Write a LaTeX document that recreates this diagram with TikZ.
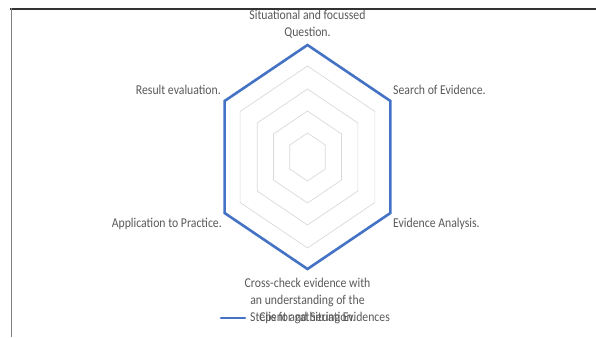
\documentclass[tikz,border=0pt]{standalone}
\usepackage{fontspec}
\setmainfont{Carlito}[FakeStretch=0.87]
\definecolor{seriesblue}{HTML}{4472C4}
\definecolor{gridgray}{HTML}{D9D9D9}
\definecolor{labelgray}{HTML}{595959}

\tikzset{
    spoke/.style={inner sep=0pt, text=labelgray},
    ring/.style={gridgray, line width=0.7pt},
    series/.style={seriesblue, line width=2.6pt, line join=miter}
}

\begin{document}
\begin{tikzpicture}[x=1pt, y=1pt, font=\fontsize{13.5}{17}\selectfont]
        \useasboundingbox (0,0) rectangle (596,337);

        % frame
        \draw[black!80, line width=1.2pt] (10,328) -- (596,328);
        \draw[black!50, line width=0.8pt] (11,328.6) -- (11,0);

        \begin{scope}[shift={(307.5,180)}, xscale=0.855]
            % grid rings
            \foreach \r in {24,46,68,91}
                \draw[ring] (90:\r) -- (30:\r) -- (-30:\r) -- (-90:\r) -- (-150:\r) -- (150:\r) -- cycle;

            % data points
            \coordinate (q) at (90:112);
            \coordinate (s) at (30:112);
            \coordinate (a) at (-30:112);
            \coordinate (c) at (-90:112);
            \coordinate (p) at (-150:112);
            \coordinate (r) at (150:112);

            % series
            \draw[series] (q) -- (s) -- (a) -- (c) -- (p) -- (r) -- cycle;
        \end{scope}

        % labels
        \node[spoke, align=center] (question) at (307.5,313) {Situational and focussed\\Question.};
        \node[spoke, anchor=west] (search) at (393,247) {Search of Evidence.};
        \node[spoke, anchor=west] (analysis) at (393,113) {Evidence Analysis.};
        \node[spoke, align=center] (crosscheck) at (307.5,37) {Cross-check evidence with\\an understanding of the\\Client and Situation.};
        \node[spoke, anchor=east] (practice) at (222,113) {Application to Practice.};
        \node[spoke, anchor=east] (result) at (221,247) {Result evaluation.};

        % legend
        \coordinate (key1) at (221,19);
        \coordinate (key2) at (245,19);
        \draw[series, line cap=round] (key1) -- (key2);
        \node[spoke, anchor=west] (legend) at (250,19) {Steps for gathering Evidences};
\end{tikzpicture}
\end{document}
